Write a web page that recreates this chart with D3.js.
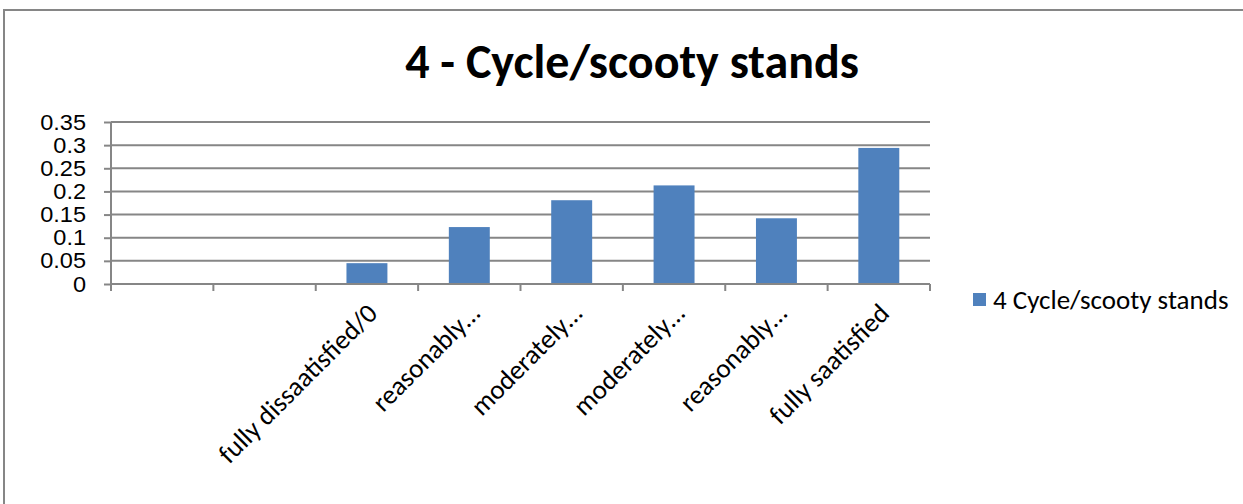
<!DOCTYPE html>
<html>
<head>
<meta charset="utf-8">
<script src="https://cdn.jsdelivr.net/npm/d3@7"></script>
<style>
  html, body { margin: 0; padding: 0; background: #fff; }
  svg { display: block; font-family: Calibri, Carlito, Lato, "Open Sans", sans-serif; }
</style>
</head>
<body>
<div id="chart"></div>
<script>
const categories = ["", "", "fully dissaatisfied/0", "reasonably…", "moderately…", "moderately…", "reasonably…", "fully saatisfied"];
const catKeys = categories.map((c, i) => i + ":" + c);
const values = [0, 0, 0.045, 0.123, 0.181, 0.213, 0.142, 0.294];
const yTicks = [0, 0.05, 0.1, 0.15, 0.2, 0.25, 0.3, 0.35];
const seriesName = "4 Cycle/scooty stands";
const title = "4 - Cycle/scooty stands";

const W = 1243, H = 504;
const M = { l: 111, r: 313, t: 122, b: 220 };   // plot 111..930, 122..284
const BAR = "#4f81bd", GRID = "#868686";

const svg = d3.select("#chart").append("svg").attr("width", W).attr("height", H);

// chart area frame (cut off at right/bottom like the source)
svg.append("rect")
  .attr("x", 4).attr("y", 10).attr("width", W + 20).attr("height", H + 20)
  .attr("fill", "none").attr("stroke", GRID).attr("stroke-width", 2);

svg.append("text")
  .attr("x", 632).attr("y", 78)
  .attr("text-anchor", "middle")
  .style("font-size", "48px").style("font-weight", 700)
  .text(title);

const w = W - M.l - M.r, h = H - M.t - M.b;
const g = svg.append("g").attr("transform", `translate(${M.l},${M.t})`);

const x = d3.scaleBand().domain(catKeys).range([0, w]).paddingInner(0).paddingOuter(0);
const y = d3.scaleLinear().domain([0, 0.35]).range([h, 0]);

// gridlines
g.append("g").selectAll("line")
  .data(yTicks)
  .join("line")
  .attr("x1", 0).attr("x2", w)
  .attr("y1", d => y(d)).attr("y2", d => y(d))
  .attr("stroke", GRID).attr("stroke-width", 2);

// y axis
const ya = g.append("g")
  .call(d3.axisLeft(y).tickValues(yTicks).tickFormat(d => String(+d.toFixed(2))).tickSize(7).tickPadding(18));
ya.selectAll("line").attr("stroke", GRID).attr("stroke-width", 2);
ya.select(".domain").attr("stroke", GRID).attr("stroke-width", 2).attr("d", `M0,0V${h}`);
// labels are a touch wider than the font in the source, stretch a little
const sx = 1.07;
ya.selectAll("text").style("font-size", "22px").attr("fill", "#000")
  .attr("x", -25 / sx).attr("transform", `scale(${sx},1)`);

// bars
const bw = x.bandwidth() * 0.4;
g.append("g").selectAll("rect")
  .data(values.map((v, i) => ({ k: catKeys[i], v })))
  .join("rect")
  .attr("x", d => x(d.k) + (x.bandwidth() - bw) / 2)
  .attr("width", bw)
  .attr("y", d => y(d.v))
  .attr("height", d => h - y(d.v))
  .attr("fill", BAR);

// x axis
const xa = g.append("g").attr("transform", `translate(0,${h})`);
xa.append("line").attr("x1", 0).attr("x2", w).attr("y1", 0).attr("y2", 0)
  .attr("stroke", GRID).attr("stroke-width", 2);
const edges = catKeys.map(k => x(k)).concat([w]);
xa.selectAll("line.tick").data(edges).join("line").attr("class", "tick")
  .attr("x1", d => d).attr("x2", d => d).attr("y1", 0).attr("y2", 7)
  .attr("stroke", GRID).attr("stroke-width", 2);
xa.selectAll("text").data(catKeys).join("text")
  .attr("text-anchor", "end")
  .attr("transform", d => `translate(${x(d) + x.bandwidth() / 2 + 12},${31}) rotate(-45)`)
  .style("font-size", "27px")
  .text((d, i) => categories[i]);

// legend
const lg = svg.append("g").attr("transform", "translate(973,293)");
lg.append("rect").attr("width", 13).attr("height", 13).attr("fill", BAR);
lg.append("text").attr("x", 20).attr("y", 7).attr("dy", "0.35em")
  .style("font-size", "27px").text(seriesName);
</script>
</body>
</html>
